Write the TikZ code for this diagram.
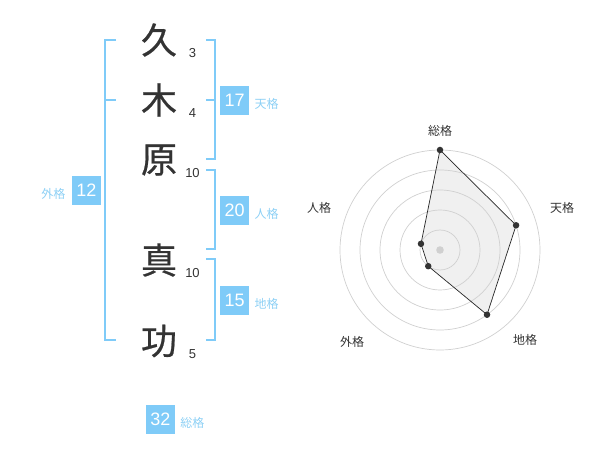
\documentclass[tikz,border=0pt]{standalone}
\usepackage{fontspec}
\setmainfont{Liberation Sans}
\newfontfamily\jp{Noto Sans CJK JP}
\newfontfamily\jpk[FakeBold=0.6]{Noto Sans CJK JP}
\usepackage{xcolor}
\usetikzlibrary{positioning,calc}

\definecolor{skyb}{HTML}{7FCBF8}
\definecolor{skyl}{HTML}{8DD0F5}
\definecolor{ink}{HTML}{333333}
\definecolor{ringc}{HTML}{D0D0D0}
\definecolor{fillg}{HTML}{F0F0F0}

\tikzset{
    kanji/.style={font=\jpk\fontsize{36}{36}\selectfont, text=ink, inner sep=0pt},
    stroke/.style={font=\fontsize{13}{13}\selectfont, text=ink, inner sep=0pt},
    valbox/.style={fill=skyb, text=white, minimum size=29pt, inner sep=0pt, font=\fontsize{18}{18}\selectfont},
    kaku/.style={text=skyl, font=\jp\fontsize{12}{12}\selectfont, inner sep=0pt},
    bracket/.style={draw=skyb, line width=1.6pt},
    ring/.style={draw=ringc, line width=0.7pt},
    axislbl/.style={font=\jp\fontsize{12}{12}\selectfont, text=ink, inner sep=0pt},
    dot/.style={circle, fill=ink, inner sep=0pt, minimum size=6.5pt}
}

\begin{document}
\begin{tikzpicture}[x=1pt,y=-1pt]
    \useasboundingbox (0,0) rectangle (600,470);

    % Name and stroke counts
    \foreach \y/\ch/\n/\name in {40/久/3/a, 100/木/4/b, 160/原/10/c, 260/真/10/d, 341/功/5/e}
    {
        \node[kanji] (k-\name) at (159,\y) {\ch};
        \node[stroke] (s-\name) at (192.5,\y+13) {\n};
    }

    % Brackets
    \draw[bracket] (116,40) -- (105,40) -- (105,340) -- (116,340);
    \draw[bracket] (105,100) -- (116,100);
    \draw[bracket] (206,40) -- (215,40) -- (215,159) -- (206,159);
    \draw[bracket] (206,100) -- (215,100);
    \draw[bracket] (206,170) -- (215,170) -- (215,249) -- (206,249);
    \draw[bracket] (206,259) -- (215,259) -- (215,340) -- (206,340);

    % Totals
    \foreach \x/\y/\v/\lbl/\name in {234.7/100.5/17/天格/ten, 234.7/210.5/20/人格/jin, 234.7/300.5/15/地格/chi, 160.5/419.5/32/総格/sou}
    {
        \node[valbox] (v-\name) at (\x,\y) {\v};
        \node[kaku, right=5pt of v-\name, yshift=-3.5pt] (t-\name) {\lbl};
    }
    \node[valbox] (v-gai) at (86.3,190.5) {12};
    \node[kaku, left=6pt of v-gai, yshift=-3.5pt] (t-gai) {外格};

    % Radar chart
    \begin{scope}[shift={(440,250)}, y=1pt]
        \foreach \a/\r/\name in {90/100/sou, 18/80/ten, -54/80/chi, -126/20/gai, 162/20/jin}
            \coordinate (p-\name) at (\a:\r);
        \fill[fillg] (p-sou) -- (p-ten) -- (p-chi) -- (p-gai) -- (p-jin) -- cycle;
        \foreach \r in {20,40,...,100}
            \draw[ring] (0,0) circle (\r);
        \fill[ringc] (0,0) circle (3.8);
        \draw[draw=black!85, line width=0.7pt]
            (p-sou) -- (p-ten) -- (p-chi) -- (p-gai) -- (p-jin) -- cycle;
        \foreach \name in {sou,ten,chi,gai,jin}
            \node[dot] (d-\name) at (p-\name) {};
        \foreach \x/\y/\lbl/\name in {0/119/総格/sou, 122/42/天格/ten, 85/-90/地格/chi, -88/-92/外格/gai, -121/42/人格/jin}
            \node[axislbl] (l-\name) at (\x,\y) {\lbl};
    \end{scope}
\end{tikzpicture}
\end{document}
